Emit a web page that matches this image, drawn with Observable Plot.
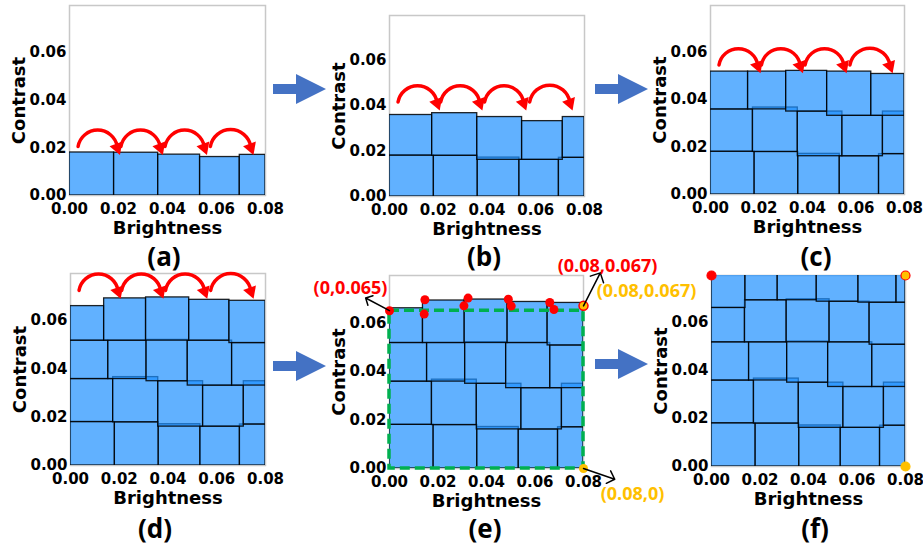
<!DOCTYPE html>
<html><head><meta charset="utf-8">
<script src="https://cdn.jsdelivr.net/npm/d3@7"></script>
<script src="https://cdn.jsdelivr.net/npm/@observablehq/plot@0.6"></script>
<style>
html,body{margin:0;padding:0;background:#fff;}
#wrap{position:relative;width:923px;height:545px;overflow:hidden;background:#fff;}
.panel{position:absolute;}
#overlay{position:absolute;left:0;top:0;}
</style></head>
<body><div id="wrap"></div>
<script>
// ---------- data ----------
const xTicks = [0, 0.02, 0.04, 0.06, 0.08];
const yTicks = [0, 0.02, 0.04, 0.06];
const xDomain = [0, 0.08];
const yDomain = [0, 0.0795];
const xLabel = "Brightness";
const yLabel = "Contrast";
const panelNames = ["(a)", "(b)", "(c)", "(d)", "(e)", "(f)"];

// tile rows: x edges and tile tops (bottoms sit on the row below)
const row1Edges = [0, 0.0182, 0.0362, 0.0533, 0.0695, 0.08];
const row1Tops  = [0.0180, 0.0179, 0.0171, 0.0161, 0.0170];
const row2Edges = [0, 0.0175, 0.0360, 0.0544, 0.0711, 0.08];
const row2Tops  = [0.0358, 0.0366, 0.0349, 0.0331, 0.0349];
const row3Edges = [0, 0.0155, 0.0312, 0.0481, 0.0663, 0.08];
const row3Tops  = [0.0517, 0.0517, 0.0520, 0.0517, 0.0507];
const row4Edges = [0, 0.0138, 0.0310, 0.0487, 0.0652, 0.08];
const row4Tops  = [0.0660, 0.0692, 0.0696, 0.0686, 0.0682];
const row5Edges = [0, 0.0140, 0.0273, 0.0434, 0.0606, 0.0763, 0.08];
const row5Tops  = [0.0850, 0.0850, 0.0850, 0.0850, 0.0850, 0.0850];
const rowsPerPanel = [1, 2, 3, 4, 4, 5];

// red curved arrows (panels a-d)
const arcStart = [0.0035, 0.0210, 0.0390, 0.0575];
const arcEnd   = [0.0195, 0.0370, 0.0550, 0.0740];
const arcBase  = [0.0205, 0.0415, 0.0545, 0.0725];

// panel (e) points
const eTopDotX = [0.0146, 0.0143, 0.0324, 0.0307, 0.0490, 0.0502, 0.0661, 0.0678];
const eTopDotY = [0.0695, 0.0636, 0.0702, 0.0670, 0.0697, 0.0669, 0.0684, 0.0655];
const cornerLeftTop = {x: 0, y: 0.065};
const cornerRightTop = {x: 0.08, y: 0.067};
const cornerRightBottom = {x: 0.08, y: 0};
const labelLeftTop = "(0,0.065)";
const labelRightTop = "(0.08,0.067)";
const labelRightBottom = "(0.08,0)";

// ---------- layout (pixels) ----------
const layout = [
  {fx: 69,  fy: 5,   fw: 196, fh: 190},
  {fx: 389, fy: 15,  fw: 195, fh: 181},
  {fx: 710, fy: 5,   fw: 194, fh: 189},
  {fx: 70,  fy: 273, fw: 195, fh: 192},
  {fx: 389, fy: 275, fw: 194, fh: 193},
  {fx: 711, fy: 275, fw: 194, fh: 191}
];
const labelPos = [[164, 266], [484, 266], [816, 266], [155, 538], [485, 538], [815, 538]];
const blueArrows = [[273, 89], [595, 89], [273, 366], [595, 364]];

const RED = "#ff0000", ORANGE = "#ffc000", GREEN = "#00b050", BLUE = "#4472c4";

const rows = [[row1Edges, row1Tops], [row2Edges, row2Tops], [row3Edges, row3Tops], [row4Edges, row4Tops], [row5Edges, row5Tops]];
function buildTiles(n) {
  const tiles = [];
  for (let r = 0; r < n; r++) {
    const [edges, tops] = rows[r];
    for (let i = 0; i < tops.length; i++) {
      const x1 = edges[i], x2 = edges[i + 1];
      let y1 = 0;
      if (r > 0) {
        const [pe, pt] = rows[r - 1];
        y1 = Infinity;
        for (let j = 0; j < pt.length; j++) if (pe[j] < x2 && pe[j + 1] > x1) y1 = Math.min(y1, pt[j]);
      }
      tiles.push({x1, x2, y1, y2: tops[i]});
    }
  }
  return tiles;
}

const wrap = document.getElementById("wrap");
const fmt = d3.format(".2f");

layout.forEach((L, p) => {
  const mL = 64, mT = 22, mB = 52;
  const mR = p === 4 ? 130 : 19;
  const marks = [
    Plot.frame({stroke: "#c8c8c8", strokeWidth: 1.5}),
    Plot.rect(buildTiles(rowsPerPanel[p]), {x1: "x1", x2: "x2", y1: "y1", y2: "y2",
      fill: "#1e90ff", fillOpacity: 0.7, stroke: "#000", strokeWidth: 1.3, strokeOpacity: 0.85, clip: true}),
    Plot.axisX({ticks: xTicks, tickFormat: fmt, tickSize: 0, tickPadding: 8, label: null, fontSize: 15}),
    Plot.axisY({ticks: yTicks, tickFormat: fmt, tickSize: 0, tickPadding: 3, label: null, fontSize: 15}),
    Plot.text([xLabel], {frameAnchor: "bottom", lineAnchor: "top", dy: 25.5, fontSize: 18, fontWeight: "bold"}),
    Plot.text([yLabel], {frameAnchor: "left", textAnchor: "middle", rotate: -90, dx: -50, fontSize: 18, fontWeight: "bold"})
  ];
  if (p < 4) {
    const arcs = arcStart.map((s, i) => ({x1: s, x2: arcEnd[i], y: arcBase[p]}));
    marks.push(
      Plot.arrow(arcs, {x1: "x1", x2: "x2", y1: "y", y2: "y", bend: 80,
        stroke: RED, strokeWidth: 3.5, headLength: 0}),
      Plot.dot(arcs, {x: "x2", y: "y", symbol: "triangle2", r: 6.5, rotate: 160, dy: 1, fill: RED, stroke: "none"})
    );
  }
  if (p === 4) {
    const topDots = eTopDotX.map((x, i) => ({x, y: eTopDotY[i]}));
    marks.push(
      Plot.rect([{x1: 0, x2: cornerRightBottom.x, y1: cornerRightBottom.y, y2: cornerLeftTop.y}],
        {x1: "x1", x2: "x2", y1: "y1", y2: "y2", fill: "none", stroke: GREEN, strokeWidth: 3.5, strokeDasharray: "10,5"}),
      Plot.dot(topDots, {x: "x", y: "y", r: 4.5, fill: RED}),
      Plot.dot([cornerLeftTop], {x: "x", y: "y", r: 4.5, fill: RED}),
      Plot.dot([cornerRightTop], {x: "x", y: "y", r: 4.5, fill: ORANGE, stroke: RED, strokeWidth: 1.5}),
      Plot.dot([cornerRightBottom], {x: "x", y: "y", r: 4.5, fill: ORANGE}),
      Plot.vector([cornerLeftTop], {x: "x", y: "y", length: 27, rotate: 298, anchor: "start", stroke: "#000", strokeWidth: 1.5}),
      Plot.vector([cornerRightTop], {x: "x", y: "y", length: 37, rotate: 27, anchor: "start", stroke: "#000", strokeWidth: 1.5}),
      Plot.vector([cornerRightBottom], {x: "x", y: "y", length: 33, rotate: 109, anchor: "start", stroke: "#000", strokeWidth: 1.5}),
      Plot.text([cornerLeftTop], {x: "x", y: "y", text: () => labelLeftTop, dx: -39, dy: -22, fill: RED,
        fontFamily: "Open Sans", fontWeight: "bold", fontSize: 18}),
      Plot.text([cornerRightTop], {x: "x", y: "y", text: () => labelRightTop, dx: 24, dy: -40, fill: RED,
        fontFamily: "Open Sans", fontWeight: "bold", fontSize: 18}),
      Plot.text([cornerRightTop], {x: "x", y: "y", text: () => labelRightTop, dx: 63, dy: -15, fill: ORANGE,
        fontFamily: "Open Sans", fontWeight: "bold", fontSize: 18}),
      Plot.text([cornerRightBottom], {x: "x", y: "y", text: () => labelRightBottom, dx: 49, dy: 26, fill: ORANGE,
        fontFamily: "Open Sans", fontWeight: "bold", fontSize: 18})
    );
  }
  if (p === 5) {
    const corners = [
      {x: xDomain[0], y: yDomain[1], f: RED, s: RED},
      {x: xDomain[1], y: yDomain[1], f: ORANGE, s: RED},
      {x: xDomain[1], y: yDomain[0], f: ORANGE, s: ORANGE}
    ];
    marks.push(Plot.dot(corners, {x: "x", y: "y", r: 4.5, fill: "f", stroke: "s", strokeWidth: 1.2}));
  }
  const svg = Plot.plot({
    width: mL + L.fw + mR, height: mT + L.fh + mB,
    marginLeft: mL, marginRight: mR, marginTop: mT, marginBottom: mB,
    x: {domain: xDomain},
    y: {domain: yDomain},
    style: {fontFamily: "DejaVu Sans", fontWeight: "bold", fontSize: "15px", color: "#000", background: "transparent", overflow: "visible"},
    marks
  });
  svg.classList.add("panel");
  svg.style.position = "absolute";
  svg.style.left = (L.fx - mL) + "px";
  svg.style.top = (L.fy - mT) + "px";
  svg.style.maxWidth = "none";
  wrap.appendChild(svg);
});

// overlay: panel letters and blue flow arrows
const ns = "http://www.w3.org/2000/svg";
const ov = document.createElementNS(ns, "svg");
ov.setAttribute("id", "overlay");
ov.setAttribute("width", 923);
ov.setAttribute("height", 545);
blueArrows.forEach(([x0, cy]) => {
  const poly = document.createElementNS(ns, "polygon");
  poly.setAttribute("points", [[x0, cy - 5], [x0 + 23, cy - 5], [x0 + 23, cy - 15], [x0 + 53, cy], [x0 + 23, cy + 15], [x0 + 23, cy + 5], [x0, cy + 5]].map(d => d.join(",")).join(" "));
  poly.setAttribute("fill", BLUE);
  ov.appendChild(poly);
});
panelNames.forEach((t, i) => {
  const tx = document.createElementNS(ns, "text");
  tx.setAttribute("x", labelPos[i][0]);
  tx.setAttribute("y", labelPos[i][1]);
  tx.setAttribute("text-anchor", "middle");
  tx.setAttribute("font-family", "Open Sans");
  tx.setAttribute("font-weight", "700");
  tx.setAttribute("font-size", "26");
  tx.textContent = t;
  ov.appendChild(tx);
});
wrap.appendChild(ov);
</script>
</body></html>
